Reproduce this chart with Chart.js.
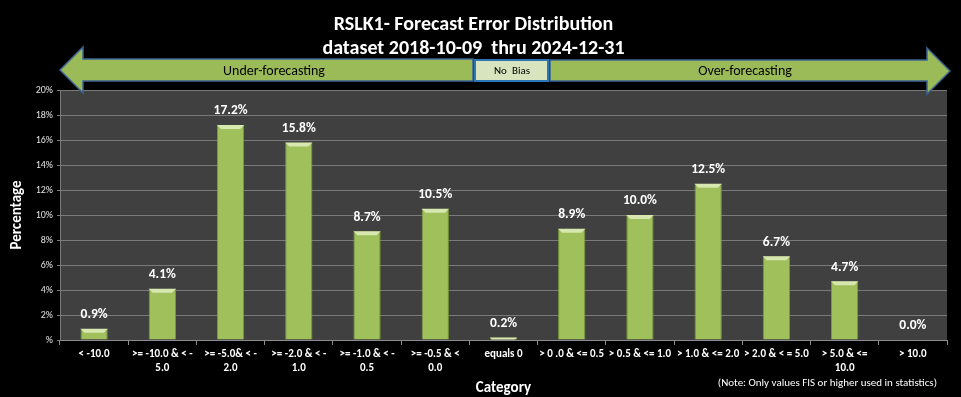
<!DOCTYPE html>
<html>
<head>
<meta charset="utf-8">
<script src="https://cdn.jsdelivr.net/npm/chart.js@4.4.1/dist/chart.umd.min.js"></script>
<style>
  html, body { margin: 0; padding: 0; background: #000; }
  #wrap { width: 961px; height: 397px; }
</style>
</head>
<body>
<div id="wrap"><canvas id="errChart" width="961" height="397"></canvas></div>
<script>
// data
const categories = [
  '< -10.0',
  ['>= -10.0 & < -', '5.0'],
  ['>= -5.0& < -', '2.0'],
  ['>= -2.0 & < -', '1.0'],
  ['>= -1.0 & < -', '0.5'],
  ['>= -0.5 & <', '0.0'],
  'equals 0',
  '> 0 .0 & <= 0.5',
  '> 0.5 & <= 1.0',
  '> 1.0 & <= 2.0',
  '> 2.0 & < = 5.0',
  ['> 5.0 & <=', '10.0'],
  '> 10.0'
];
const percentages = [0.9, 4.1, 17.2, 15.8, 8.7, 10.5, 0.2, 8.9, 10.0, 12.5, 6.7, 4.7, 0.0];
const yTickLabels = ['%', '2%', '4%', '6%', '8%', '10%', '12%', '14%', '16%', '18%', '20%'];
const titleLines = ['RSLK1- Forecast Error Distribution', 'dataset 2018-10-09  thru 2024-12-31'];
const noteText = '(Note: Only values FIS or higher used in statistics)';

const FONT = "Carlito, Calibri, 'Open Sans', sans-serif";

// plot background + arrows + note
const decor = {
  id: 'decor',
  beforeDraw(chart) {
    const { ctx, chartArea: a } = chart;
    ctx.save();
    ctx.fillStyle = '#404040';
    ctx.fillRect(a.left, a.top, a.right - a.left, a.bottom - a.top);
    ctx.restore();
  },
  afterDraw(chart) {
    const { ctx } = chart;
    ctx.save();
    ctx.fillStyle = '#9bbb59';
    ctx.strokeStyle = '#3c6494';
    ctx.lineWidth = 1.5;
    // left arrow
    ctx.beginPath();
    ctx.moveTo(60, 70);
    ctx.lineTo(83, 47);
    ctx.lineTo(83, 59);
    ctx.lineTo(473, 59);
    ctx.lineTo(473, 81);
    ctx.lineTo(83, 81);
    ctx.lineTo(83, 93);
    ctx.closePath();
    ctx.fill(); ctx.stroke();
    // right arrow
    ctx.beginPath();
    ctx.moveTo(950, 71);
    ctx.lineTo(927, 48);
    ctx.lineTo(927, 60);
    ctx.lineTo(550, 60);
    ctx.lineTo(550, 81);
    ctx.lineTo(927, 81);
    ctx.lineTo(927, 94);
    ctx.closePath();
    ctx.fill(); ctx.stroke();
    // no bias box
    ctx.fillStyle = '#d7e4bd';
    ctx.strokeStyle = '#2e75b6';
    ctx.lineWidth = 2;
    ctx.fillRect(475, 60, 73, 21);
    ctx.strokeRect(475, 60, 73, 21);

    ctx.fillStyle = '#000';
    ctx.textAlign = 'center';
    ctx.textBaseline = 'middle';
    ctx.font = '14px ' + FONT;
    ctx.fillText('Under-forecasting', 274, 71);
    ctx.fillText('Over-forecasting', 745, 71);
    ctx.font = '11px ' + FONT;
    ctx.fillText('No  Bias', 512, 71);

    ctx.fillStyle = '#fff';
    ctx.font = '11px ' + FONT;
    ctx.textAlign = 'right';
    ctx.fillText(noteText, 937, 383);
    ctx.restore();
  }
};

// bevel on bar tops and value labels
const barLabels = {
  id: 'barLabels',
  afterDatasetsDraw(chart) {
    const { ctx } = chart;
    const meta = chart.getDatasetMeta(0);
    ctx.save();
    meta.data.forEach((bar, i) => {
      const { x, y, base, width } = bar.getProps(['x', 'y', 'base', 'width'], true);
      const h = base - y;
      if (h > 0.5) {
        const b = Math.min(4, h);
        ctx.fillStyle = '#d8e6b0';
        ctx.beginPath();
        ctx.moveTo(x - width / 2, y);
        ctx.lineTo(x + width / 2, y);
        ctx.lineTo(x + width / 2 - b, y + b);
        ctx.lineTo(x - width / 2 + b, y + b);
        ctx.closePath();
        ctx.fill();
      }
      ctx.fillStyle = '#ffffff';
      ctx.font = 'bold 13.5px ' + FONT;
      ctx.textAlign = 'center';
      ctx.textBaseline = 'middle';
      ctx.fillText(percentages[i].toFixed(1) + '%', x, y - 14);
    });
    ctx.restore();
  }
};

new Chart(document.getElementById('errChart'), {
  type: 'bar',
  data: {
    labels: categories,
    datasets: [{
      data: percentages,
      backgroundColor: '#a0c05c',
      borderColor: '#789a3a',
      borderWidth: 1,
      barPercentage: 0.4,
      categoryPercentage: 1
    }]
  },
  options: {
    responsive: false,
    animation: false,
    layout: { padding: { left: 0, right: 14, top: 0, bottom: 0 } },
    plugins: {
      legend: { display: false },
      tooltip: { enabled: false },
      title: {
        display: true,
        text: titleLines,
        color: '#fff',
        font: { family: FONT, size: 20, weight: 'bold', lineHeight: 1.2 },
        padding: { top: 13, bottom: 29 }
      }
    },
    scales: {
      x: {
        grid: { display: true, drawOnChartArea: false, drawTicks: true, tickLength: 5, color: '#8c8c8c', offset: true },
        border: { color: '#8c8c8c' },
        ticks: {
          color: '#fff',
          font: { family: FONT, size: 11, weight: 'bold', lineHeight: 1.3 },
          maxRotation: 0, minRotation: 0, autoSkip: false, padding: 2
        },
        title: {
          display: true, text: 'Category', color: '#fff',
          font: { family: FONT, size: 15, weight: 'bold' }, padding: 0
        },
        afterFit(scale) { scale.height = 57; }
      },
      y: {
        min: 0, max: 20,
        ticks: {
          stepSize: 2, color: '#e0e0e0',
          font: { family: FONT, size: 10 },
          padding: 4,
          callback: (v, i) => yTickLabels[i]
        },
        grid: { color: '#7a7a7a', tickLength: 3, lineWidth: 1 },
        border: { color: '#7a7a7a' },
        title: {
          display: true, text: 'Percentage', color: '#fff',
          font: { family: FONT, size: 15, weight: 'bold' }, padding: { top: 8, bottom: 0 }
        },
        afterFit(scale) { scale.width = 60; }
      }
    }
  },
  plugins: [decor, barLabels]
});
</script>
</body>
</html>
